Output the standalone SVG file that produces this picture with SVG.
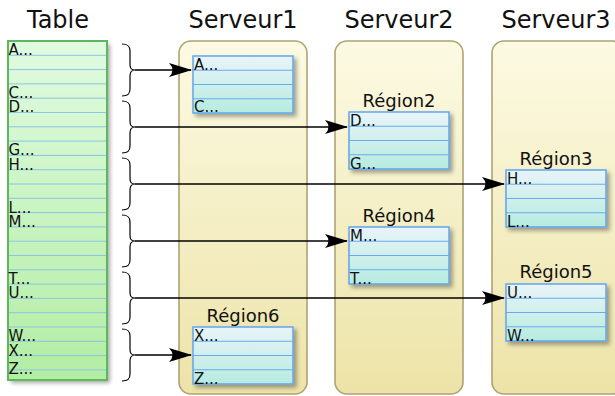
<svg xmlns="http://www.w3.org/2000/svg" xmlns:xlink="http://www.w3.org/1999/xlink" width="615" height="396" viewBox="0 0 615 396">
  <style>
    .hdr { font-family: "DejaVu Sans", sans-serif; font-size: 24px; fill: #111; text-anchor: middle; }
    .lbl { font-family: "DejaVu Sans", sans-serif; font-size: 18px; fill: #111; text-anchor: middle; }
    .key { font-family: "DejaVu Sans", sans-serif; font-size: 15px; fill: #111; }
    .server { fill: url(#gServer); stroke: #ada373; stroke-width: 1.6; }
    .region { fill: url(#gRegion); stroke: #5fa5f0; stroke-width: 1.5; }
    .rline { stroke: #6aaaf0; stroke-width: 1; }
    .tline { stroke: #8cc4e4; stroke-width: 1; }
    .brace { fill: none; stroke: #000; stroke-width: 1.2; }
    .conn { fill: none; stroke: #000; stroke-width: 1.3; marker-end: url(#arrow); }
  </style>
  <defs>
    <linearGradient id="gServer" x1="0" y1="0" x2="0" y2="1">
      <stop offset="0" stop-color="#fcfae3"/>
      <stop offset="1" stop-color="#ede3a8"/>
    </linearGradient>
    <linearGradient id="gRegion" x1="0" y1="0" x2="0" y2="1">
      <stop offset="0" stop-color="#e9f4f8"/>
      <stop offset="1" stop-color="#b6ebdf"/>
    </linearGradient>
    <linearGradient id="gTable" x1="0" y1="0" x2="0" y2="1">
      <stop offset="0" stop-color="#e0fbe0"/>
      <stop offset="1" stop-color="#b3eda3"/>
    </linearGradient>
    <filter id="shadow" x="-20%" y="-20%" width="150%" height="150%">
      <feGaussianBlur in="SourceAlpha" stdDeviation="2.2"/>
      <feOffset dx="2.5" dy="2.5" result="b"/>
      <feComponentTransfer><feFuncA type="linear" slope="0.35"/></feComponentTransfer>
      <feMerge><feMergeNode/><feMergeNode in="SourceGraphic"/></feMerge>
    </filter>
    <marker id="arrow" markerUnits="userSpaceOnUse" viewBox="-24 -9 26 18" refX="0" refY="0" markerWidth="26" markerHeight="18" orient="auto">
      <path d="M1,0 L-22,-7 Q-15,0 -22,7 Z" fill="#000"/>
    </marker>
    <path id="brace" d="M122,-26 C128,-26 130,-24 130,-19 L130,-6 C130,-2 131,0 135,0 C131,0 130,2 130,6 L130,19 C130,24 128,26 122,26"/>
    <!-- four-row region box, 100 x 57 -->
    <g id="regionBox">
      <rect class="region" x="0" y="0" width="100" height="57"/>
      <line class="rline" x1="0" y1="14.25" x2="100" y2="14.25"/>
      <line class="rline" x1="0" y1="28.5" x2="100" y2="28.5"/>
      <line class="rline" x1="0" y1="42.75" x2="100" y2="42.75"/>
    </g>
  </defs>

  <rect width="615" height="396" fill="#fff"/>

  <!-- column titles -->
  <g id="titles">
    <text class="hdr" x="58" y="28">Table</text>
    <text class="hdr" x="243" y="28">Serveur1</text>
    <text class="hdr" x="399" y="28">Serveur2</text>
    <text class="hdr" x="556" y="28">Serveur3</text>
  </g>

  <!-- sorted table of row keys -->
  <g id="table">
    <rect x="8" y="41" width="99" height="339" fill="url(#gTable)" filter="url(#shadow)"/>
    <g class="tline">
      <line x1="9" y1="55.3" x2="106" y2="55.3"/>
      <line x1="9" y1="69.6" x2="106" y2="69.6"/>
      <line x1="9" y1="83.9" x2="106" y2="83.9"/>
      <line x1="9" y1="98.2" x2="106" y2="98.2"/>
      <line x1="9" y1="112.5" x2="106" y2="112.5"/>
      <line x1="9" y1="126.8" x2="106" y2="126.8"/>
      <line x1="9" y1="141.1" x2="106" y2="141.1"/>
      <line x1="9" y1="155.4" x2="106" y2="155.4"/>
      <line x1="9" y1="169.7" x2="106" y2="169.7"/>
      <line x1="9" y1="184" x2="106" y2="184"/>
      <line x1="9" y1="198.3" x2="106" y2="198.3"/>
      <line x1="9" y1="212.6" x2="106" y2="212.6"/>
      <line x1="9" y1="226.9" x2="106" y2="226.9"/>
      <line x1="9" y1="241.2" x2="106" y2="241.2"/>
      <line x1="9" y1="255.5" x2="106" y2="255.5"/>
      <line x1="9" y1="269.8" x2="106" y2="269.8"/>
      <line x1="9" y1="284.1" x2="106" y2="284.1"/>
      <line x1="9" y1="298.4" x2="106" y2="298.4"/>
      <line x1="9" y1="312.7" x2="106" y2="312.7"/>
      <line x1="9" y1="327" x2="106" y2="327"/>
      <line x1="9" y1="341.3" x2="106" y2="341.3"/>
      <line x1="9" y1="355.6" x2="106" y2="355.6"/>
      <line x1="9" y1="369.9" x2="106" y2="369.9"/>
    </g>
    <rect x="8" y="41" width="99" height="339" fill="none" stroke="#5cb85c" stroke-width="2"/>
    <g class="key">
      <text x="8.5" y="55">A...</text>
      <text x="8.5" y="98">C...</text>
      <text x="8.5" y="112">D...</text>
      <text x="8.5" y="155">G...</text>
      <text x="8.5" y="169.5">H...</text>
      <text x="8.5" y="212.5">L...</text>
      <text x="8.5" y="226.5">M...</text>
      <text x="8.5" y="284">T...</text>
      <text x="8.5" y="298">U...</text>
      <text x="8.5" y="341">W...</text>
      <text x="8.5" y="355.5">X...</text>
      <text x="8.5" y="374">Z...</text>
    </g>
  </g>

  <!-- servers -->
  <g id="serveur1"><rect class="server" x="179" y="41" width="128" height="353" rx="12"/></g>
  <g id="serveur2"><rect class="server" x="335" y="41" width="128" height="353" rx="12"/></g>
  <g id="serveur3"><rect class="server" x="492" y="41" width="132" height="353" rx="12"/></g>

  <!-- regions -->
  <g id="region1">
    <use xlink:href="#regionBox" x="193" y="56" filter="url(#shadow)"/>
    <text class="key" x="194" y="70">A...</text>
    <text class="key" x="194" y="112">C...</text>
  </g>
  <g id="region2">
    <text class="lbl" x="399" y="107">Région2</text>
    <use xlink:href="#regionBox" x="349" y="112" filter="url(#shadow)"/>
    <text class="key" x="350" y="126">D...</text>
    <text class="key" x="350" y="169">G...</text>
  </g>
  <g id="region3">
    <text class="lbl" x="556" y="165">Région3</text>
    <use xlink:href="#regionBox" x="506" y="170" filter="url(#shadow)"/>
    <text class="key" x="507" y="184">H...</text>
    <text class="key" x="507" y="227">L...</text>
  </g>
  <g id="region4">
    <text class="lbl" x="399" y="222">Région4</text>
    <use xlink:href="#regionBox" x="349" y="227" filter="url(#shadow)"/>
    <text class="key" x="350" y="241">M...</text>
    <text class="key" x="350" y="284">T...</text>
  </g>
  <g id="region5">
    <text class="lbl" x="556" y="278">Région5</text>
    <use xlink:href="#regionBox" x="506" y="284" filter="url(#shadow)"/>
    <text class="key" x="507" y="298">U...</text>
    <text class="key" x="507" y="341">W...</text>
  </g>
  <g id="region6">
    <text class="lbl" x="243" y="322">Région6</text>
    <use xlink:href="#regionBox" x="193" y="327" filter="url(#shadow)"/>
    <text class="key" x="194" y="341">X...</text>
    <text class="key" x="194" y="384">Z...</text>
  </g>

  <!-- braces grouping key ranges, with arrows to the hosting region -->
  <g id="connectors">
    <use xlink:href="#brace" class="brace" y="70"/>
    <use xlink:href="#brace" class="brace" y="127"/>
    <use xlink:href="#brace" class="brace" y="184"/>
    <use xlink:href="#brace" class="brace" y="241"/>
    <use xlink:href="#brace" class="brace" y="298"/>
    <use xlink:href="#brace" class="brace" y="355"/>
    <path class="conn" d="M135,70 H191"/>
    <path class="conn" d="M135,127 H347"/>
    <path class="conn" d="M135,184 H504"/>
    <path class="conn" d="M135,241 H347"/>
    <path class="conn" d="M135,298 H504"/>
    <path class="conn" d="M135,355 H191"/>
  </g>
</svg>
